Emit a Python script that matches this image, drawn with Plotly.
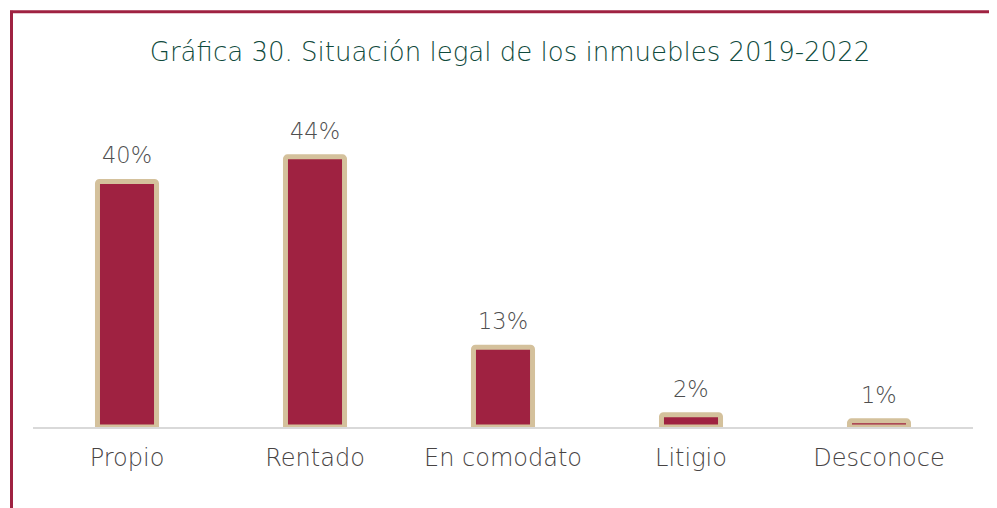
import plotly.graph_objects as go

categories = ["Propio", "Rentado", "En comodato", "Litigio", "Desconoce"]
values = [40, 44, 13, 2, 1]
labels = ["40%", "44%", "13%", "2%", "1%"]

# the page places the figure at an 8px body margin; work in screen pixels
OFF = 8
W, H = 997 - OFF, 508 - OFF
SX = lambda px: px - OFF  # screen x -> figure x
SY = lambda py: py - OFF
L = SX(33)
R = W - SX(973)
T = SY(119.5)
B = H - SY(427)
plot_w = W - L - R
plot_h = H - T - B
ymax = 50

FONT = "DejaVu Sans"

fig = go.Figure()
fig.add_trace(go.Bar(
    x=categories, y=values,
    width=0.314,
    marker=dict(color="#9F2241", line=dict(color="#D4C19C", width=5), cornerradius=2),
    hoverinfo="skip",
))

for c, v, t in zip(categories, values, labels):
    fig.add_annotation(x=c, y=v, text=t, showarrow=False, yanchor="bottom", yshift=11,
                       font=dict(family=FONT, size=22.5, color="#4f4f4f", weight=200))

px2x = lambda px: (SX(px) - L) / plot_w
py2y = lambda py: (H - B - SY(py)) / plot_h

fig.add_shape(type="line", xref="paper", yref="paper",
              x0=px2x(11.5), x1=px2x(11.5), y0=py2y(10), y1=py2y(520),
              line=dict(color="#9F2241", width=3))
fig.add_shape(type="line", xref="paper", yref="paper",
              x0=px2x(10), x1=px2x(1010), y0=py2y(11), y1=py2y(11),
              line=dict(color="#9F2241", width=3))

fig.update_layout(
    width=W, height=H,
    margin=dict(l=L, r=R, t=T, b=B),
    paper_bgcolor="white", plot_bgcolor="white",
    showlegend=False,
    title=dict(text="Gráfica 30. Situación legal de los inmuebles 2019-2022",
               x=SX(510) / W, xanchor="center", y=1 - SY(52) / H, yanchor="middle",
               font=dict(family=FONT, size=26, color="#0f4a3c", weight=200)),
    xaxis=dict(showline=True, linecolor="#D9D9D9", linewidth=2, ticks="",
               tickfont=dict(family=FONT, size=24, color="#474343", weight=200),
               ticklabelstandoff=8,
               showgrid=False),
    yaxis=dict(range=[0, ymax], visible=False, showgrid=False),
    bargap=0.2,
)

fig.write_html("out.html")
